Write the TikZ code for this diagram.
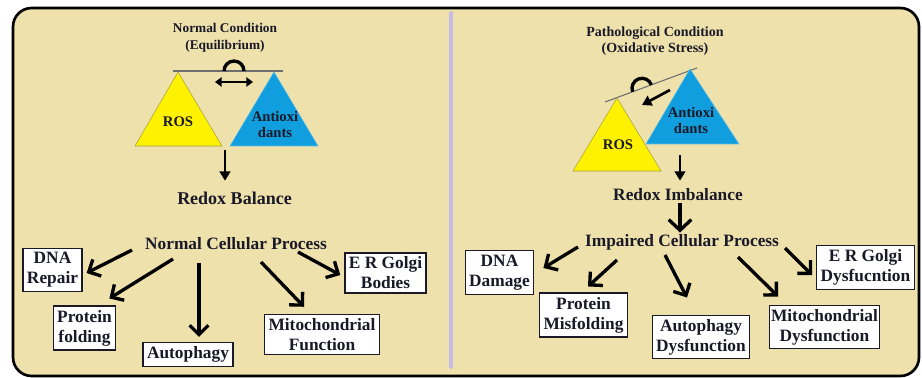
\documentclass[tikz,border=0pt]{standalone}
\usepackage{fontspec}
\setmainfont{Liberation Serif}
\usetikzlibrary{arrows.meta}
\definecolor{bgbeige}{RGB}{238,225,172}
\definecolor{rosyellow}{RGB}{255,242,0}
\definecolor{antiblue}{RGB}{16,158,222}
\definecolor{divider}{RGB}{200,188,230}
\definecolor{beamgray}{RGB}{110,110,110}
\definecolor{ink}{RGB}{25,25,40}
\begin{document}
\begin{tikzpicture}[x=0.75pt,y=-0.75pt,
	txt/.style={font=\fontsize{13}{15}\selectfont\bfseries, text=ink, align=center, inner sep=1pt},
	ttl/.style={font=\fontsize{10}{12.5}\selectfont\bfseries, text=ink, align=center, inner sep=1pt},
	tri/.style={font=\fontsize{11}{12}\selectfont\bfseries, text=ink, align=center, inner sep=1pt},
	bx/.style={draw=ink, line width=0.9pt, fill=white, font=\fontsize{13}{15}\selectfont\bfseries, text=ink, align=center, inner xsep=3pt, inner ysep=3pt},
	barb/.style={line width=2.5pt, -{Straight Barb[length=7pt,width=14pt]}},
	tarr/.style={line width=2pt, -{Triangle[length=7pt,width=8pt]}},
	beam/.style={draw=beamgray, line width=0.8pt},
	ros/.style={fill=rosyellow, draw=yellow!60!black, line width=0.4pt},
	anti/.style={fill=antiblue, draw=antiblue!70!white, line width=0.4pt},
	fulcrum/.style={line width=2.5pt}]
			\useasboundingbox (0,0) rectangle (922,378);
			\draw[line width=2pt, rounded corners=14pt, fill=bgbeige] (13,8) rectangle (919,376);
			\draw[divider, line width=3pt, line cap=round] (451,13) -- (451,367);

			\node[ttl] (ltitle) at (225,38) {Normal Condition\\(Equilibrium)};
			\draw[beam] (173,71) -- (283,71);
			\draw[ros] (178,72) -- (222,146) -- (135,146) -- cycle;
			\draw[anti] (274,72) -- (318,146) -- (230,146) -- cycle;
			\draw[fulcrum] (224,71) arc[start angle=180, end angle=360, radius=10];
			\coordinate (lswl) at (215,82);
			\coordinate (lswr) at (253,82);
			\draw[line width=2.2pt, {Triangle[length=5pt,width=7pt]}-{Triangle[length=5pt,width=7pt]}] (lswl) -- (lswr);
			\node[tri] (lros) at (178,122) {ROS};
			\node[tri] (lanti) at (275,124) {Antioxi\\dants};
			\node[txt, font=\fontsize{13.5}{15}\selectfont\bfseries] (lredox) at (234.5,198) {Redox Balance};
			\coordinate (lbase) at (225,150);
			\draw[tarr, shorten >=7pt] (lbase) -- (lbase |- lredox.north);
			\node[txt] (lproc) at (236,244) {Normal Cellular Process};
			\node[bx] (ldna) at (52.5,270) {DNA\\Repair};
			\node[bx] (lfold) at (84.5,328) {Protein\\folding};
			\node[bx] (lauto) at (188,354.5) {Autophagy};
			\node[bx] (lmito) at (322,334.5) {Mitochondrial\\Function};
			\node[bx] (ler) at (385.5,273) {E R Golgi\\Bodies};
			\draw[barb] ([shift={(-104,6)}]lproc.center) -- ([shift={(4,3)}]ldna.east);
			\draw[barb] ([shift={(-63,15)}]lproc.center) -- ([shift={(-7,-7)}]lfold.north east);
			\draw[barb] ([shift={(-37,19)}]lproc.center) -- ([shift={(11,-5)}]lauto.north);
			\draw[barb] ([shift={(25,18)}]lproc.center) -- ([shift={(-18,-7)}]lmito.north);
			\draw[barb] ([shift={(62,8)}]lproc.center) -- ([shift={(-4,2)}]ler.west);

			\node[ttl, font=\fontsize{10.5}{12.5}\selectfont\bfseries] (rtitle) at (655,41) {Pathological Condition\\(Oxidative Stress)};
			\draw[beam] (605,102) -- (697,68);
			\draw[ros] (617,98) -- (661,171) -- (573,171) -- cycle;
			\draw[anti] (690,69) -- (739,144) -- (646,144) -- cycle;
			\draw[fulcrum, rotate around={20.3:(642,88.3)}] (632,88.3) arc[start angle=180, end angle=360, radius=10];
			\coordinate (rpush) at (670,90);
			\coordinate (rpushend) at (642,105);
			\draw[tarr] (rpush) -- (rpushend);
			\node[tri] (rros) at (618,145) {ROS};
			\node[tri] (ranti) at (691,120) {Antioxi\\dants};
			\node[txt] (rredox) at (678,195) {Redox Imbalance};
			\coordinate (rbase) at (680,155);
			\draw[tarr, shorten >=5pt] (rbase) -- (rbase |- rredox.north);
			\node[txt] (rproc) at (682,242) {Impaired Cellular Process};
			\draw[line width=2.5pt, -{Straight Barb[length=8pt,width=17pt]}] (rredox.south -| rbase) -- (rproc.north -| rbase);
			\node[bx] (rdna) at (499.5,272.5) {DNA\\Damage};
			\node[bx] (rfold) at (583.5,315) {Protein\\Misfolding};
			\node[bx] (rauto) at (701,337) {Autophagy\\Dysfunction};
			\node[bx, inner xsep=1pt] (rmito) at (824.5,327) {Mitochondrial\\Dysfunction};
			\node[bx] (rer) at (865.5,267.5) {E R Golgi\\Dysfucntion};
			\draw[barb] ([shift={(-104,5)}]rproc.center) -- ([shift={(9,-4.5)}]rdna.east);
			\draw[barb] ([shift={(-65,18)}]rproc.center) -- ([shift={(4.5,-6)}]rfold.north);
			\draw[barb] ([shift={(-17,13)}]rproc.center) -- ([shift={(-14,-17)}]rauto.north);
			\draw[barb] ([shift={(56,15)}]rproc.center) -- ([shift={(9,-8)}]rmito.north west);
			\draw[barb] ([shift={(103,6)}]rproc.center) -- ([shift={(-4,7.5)}]rer.west);
\end{tikzpicture}
\end{document}
